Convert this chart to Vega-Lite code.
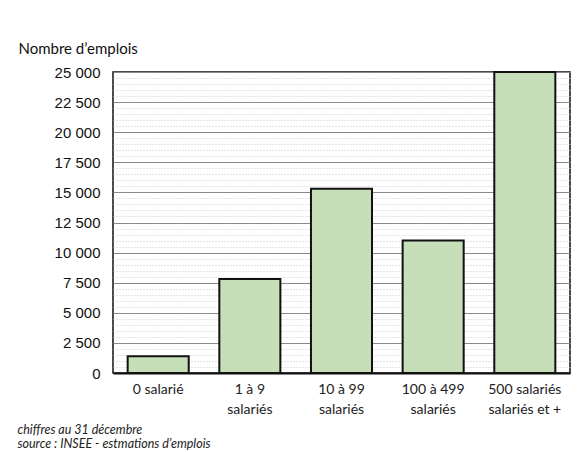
{
  "$schema": "https://vega.github.io/schema/vega-lite/v6.json",
  "autosize": {"type": "none"},
  "width": 457,
  "height": 301,
  "padding": {"left": 113, "top": 72, "right": 12, "bottom": 79},
  "background": "white",
  "config": {
    "view": {"stroke": "#111111", "strokeWidth": 1.5},
    "font": "Lato"
  },
  "data": {
    "values": [
      {"taille": "0 salarié", "emplois": 1400},
      {"taille": "1 à 9 salariés", "emplois": 7800},
      {"taille": "10 à 99 salariés", "emplois": 15300},
      {"taille": "100 à 499 salariés", "emplois": 11000},
      {"taille": "500 salariés salariés et +", "emplois": 25000}
    ]
  },
  "layer": [
    {
      "mark": {"type": "bar", "fill": "#c6dfb9", "stroke": "#111111", "strokeWidth": 2},
      "encoding": {
        "x": {
          "field": "taille", "type": "nominal", "sort": null,
          "scale": {"paddingInner": 0.334, "paddingOuter": 0.16},
          "axis": {
            "labelAngle": 0, "labelFont": "Lato", "labelFontSize": 14, "labelColor": "#222222",
            "labelBaseline": "top", "labelPadding": 9, "labelLineHeight": 20,
            "ticks": false, "domainColor": "#111111", "domainWidth": 2,
            "labelExpr": "datum.label == '0 salarié' ? datum.label : (datum.label == '500 salariés salariés et +' ? ['500 salariés', 'salariés et +'] : [replace(datum.label, ' salariés', ''), 'salariés'])",
            "title": ["chiffres au 31 décembre", "source : INSEE - estmations d’emplois"],
            "titleFont": "Lato", "titleFontStyle": "italic", "titleFontWeight": "normal", "titleFontSize": 12.5,
            "titleColor": "#222222", "titleAlign": "left", "titleAnchor": "start", "titleBaseline": "alphabetic",
            "titleX": -96, "titleY": 60, "titleLineHeight": 14
          }
        },
        "y": {
          "field": "emplois", "type": "quantitative",
          "scale": {"domain": [0, 25000], "nice": false},
          "axis": {
            "values": [500,1000,1500,2000,3000,3500,4000,4500,5500,6000,6500,7000,8000,8500,9000,9500,10500,11000,11500,12000,13000,13500,14000,14500,15500,16000,16500,17000,18000,18500,19000,19500,20500,21000,21500,22000,23000,23500,24000,24500],
            "labels": false, "ticks": false, "domain": false, "title": null,
            "grid": true, "gridColor": "#c8c8c8", "gridDash": [1, 2], "gridWidth": 1
          }
        }
      }
    },
    {
      "mark": {"type": "bar", "opacity": 0},
      "encoding": {
        "x": {"field": "taille", "type": "nominal", "sort": null},
        "y": {
          "field": "emplois", "type": "quantitative",
          "axis": {
            "orient": "left",
            "values": [0,2500,5000,7500,10000,12500,15000,17500,20000,22500,25000],
            "labelExpr": "replace(format(datum.value, ','), ',', ' ')",
            "labelFont": "Liberation Sans", "labelFontSize": 15, "labelColor": "#111111",
            "labelPadding": 13, "ticks": false, "domain": false,
            "grid": true, "gridColor": "#8a8a8a", "gridWidth": 1,
            "title": "Nombre d’emplois", "titleAngle": 0, "titleAlign": "left", "titleBaseline": "alphabetic",
            "titleX": -95, "titleY": -19, "titleFont": "Lato", "titleFontSize": 15, "titleFontWeight": "normal",
            "titleColor": "#111111"
          }
        }
      }
    }
  ],
  "resolve": {"axis": {"y": "independent"}}
}
